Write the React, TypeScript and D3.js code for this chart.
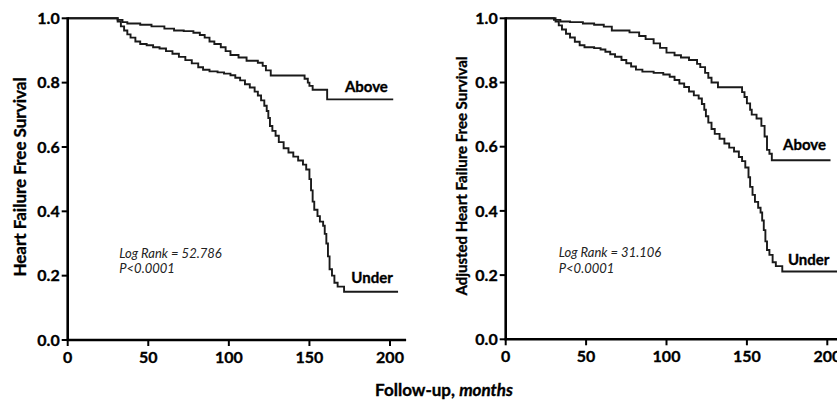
import React from "react";
import * as d3 from "d3";

const xTicks = [0, 50, 100, 150, 200];
const yTicks = [0, 0.2, 0.4, 0.6, 0.8, 1.0];

// Kaplan–Meier steps: [month, survival]
const leftAbove: [number, number][] = [
  [0, 1.0], [31, 0.995], [34, 0.988], [37, 0.984], [45, 0.98], [52, 0.975], [60, 0.968], [66, 0.962],
  [72, 0.96], [78, 0.955], [82, 0.948], [85, 0.94], [88, 0.928], [91, 0.92], [95, 0.91], [98, 0.898],
  [101, 0.886], [106, 0.878], [111, 0.868], [118, 0.862], [121, 0.852], [123, 0.838], [126, 0.822],
  [147, 0.812], [149, 0.8], [150, 0.79], [152, 0.778], [161, 0.748], [202, 0.748],
];
const leftUnder: [number, number][] = [
  [0, 1], [31, 0.99], [33, 0.975], [35, 0.962], [37, 0.95], [39, 0.94], [42, 0.928], [45, 0.92],
  [49, 0.916], [53, 0.91], [57, 0.906], [61, 0.898], [65, 0.89], [69, 0.88], [73, 0.87], [77, 0.86],
  [81, 0.848], [84, 0.84], [88, 0.835], [93, 0.832], [97, 0.828], [101, 0.823], [104, 0.815], [107, 0.807],
  [110, 0.795], [113, 0.785], [116, 0.772], [118, 0.76], [120, 0.745], [122, 0.728], [123.5, 0.712],
  [124.5, 0.69], [125.5, 0.665], [127, 0.65], [129, 0.635], [131, 0.615], [134, 0.596], [137, 0.583],
  [140, 0.57], [143, 0.558], [146, 0.545], [148, 0.53], [150, 0.5], [151, 0.465], [152, 0.43], [153, 0.405],
  [155, 0.385], [156.5, 0.368], [158.5, 0.355], [159.5, 0.33], [160.5, 0.3], [161.5, 0.26], [162.5, 0.22],
  [164, 0.2], [165.5, 0.178], [167.5, 0.166], [171.5, 0.15], [205, 0.15],
];
const rightAbove: [number, number][] = [
  [0, 1], [30, 0.995], [34, 0.99], [40, 0.988], [48, 0.984], [55, 0.98], [61, 0.974], [66, 0.962],
  [77, 0.956], [83, 0.945], [87, 0.935], [92, 0.922], [96, 0.908], [100, 0.893], [105, 0.885], [109, 0.878],
  [114, 0.87], [119, 0.858], [121, 0.848], [124, 0.83], [126, 0.815], [128, 0.8], [132, 0.785], [147, 0.77],
  [148.5, 0.755], [150, 0.735], [152, 0.715], [153, 0.7], [156, 0.688], [159, 0.665], [161, 0.632],
  [162.5, 0.59], [164, 0.578], [165.5, 0.558], [202, 0.558],
];
const rightUnder: [number, number][] = [
  [0, 1], [31, 0.99], [33, 0.978], [35, 0.965], [37.5, 0.952], [40, 0.94], [43, 0.927], [46, 0.916],
  [49, 0.91], [55, 0.907], [59, 0.903], [62, 0.896], [65, 0.888], [68, 0.88], [72, 0.87], [75, 0.86],
  [78, 0.85], [81, 0.84], [85, 0.834], [92, 0.83], [98, 0.825], [102, 0.818], [105, 0.808], [108, 0.797],
  [111, 0.786], [114, 0.772], [117, 0.76], [120, 0.75], [122, 0.733], [123.5, 0.715], [124.5, 0.695],
  [126, 0.675], [128, 0.655], [130, 0.64], [133, 0.625], [136, 0.61], [139, 0.597], [142, 0.585],
  [145, 0.568], [147, 0.555], [149, 0.535], [151, 0.505], [152, 0.475], [153.5, 0.45], [155, 0.428],
  [157, 0.41], [158.5, 0.395], [159.5, 0.37], [160.5, 0.34], [161.5, 0.305], [162.5, 0.278], [164, 0.263],
  [166, 0.24], [168, 0.228], [172, 0.211], [210, 0.211],
];

const panels = [
  {
    title: "Heart Failure Free Survival",
    stat: "Log Rank = 52.786",
    p: "P<0.0001",
    above: leftAbove,
    under: leftUnder,
    xRange: [67.7, 390] as [number, number],
    yRange: [340, 18.3] as [number, number],
    axisEnd: 210,
    titleX: 20,
    titleY: 177,
    titleSize: 17,
    aboveLbl: [172, 0.77],
    underLbl: [176, 0.176],
    statAt: [32, 0.255],
  },
  {
    title: "Adjusted Heart Failure Free Survival",
    stat: "Log Rank = 31.106",
    p: "P<0.0001",
    above: rightAbove,
    under: rightUnder,
    xRange: [505.7, 827.3] as [number, number],
    yRange: [339.3, 18.3] as [number, number],
    axisEnd: 215,
    titleX: 462,
    titleY: 176,
    titleSize: 15,
    aboveLbl: [172.5, 0.59],
    underLbl: [175.5, 0.232],
    statAt: [33, 0.255],
  },
];

const FONT = "Lato, 'Open Sans', sans-serif";

function Panel({ cfg }: { cfg: (typeof panels)[number] }) {
  const x = d3.scaleLinear().domain([0, 200]).range(cfg.xRange);
  const y = d3.scaleLinear().domain([0, 1]).range(cfg.yRange);
  const line = d3
    .line<[number, number]>()
    .x((d) => x(d[0]))
    .y((d) => y(d[1]))
    .curve(d3.curveStepAfter);
  const x0 = x(0);
  const y0 = y(0);
  const bold = { fontWeight: 700, stroke: "#000", strokeWidth: 0.35 } as const;
  return (
    <g fontFamily={FONT}>
      <path d={line(cfg.above) || ""} fill="none" stroke="#1a1a1a" strokeWidth={1.9} />
      <path d={line(cfg.under) || ""} fill="none" stroke="#1a1a1a" strokeWidth={1.9} />
      <line x1={x0} x2={x0} y1={y(1) - 1} y2={y0 + 1} stroke="#000" strokeWidth={2.6} />
      <line x1={x0 - 1} x2={x(cfg.axisEnd)} y1={y0} y2={y0} stroke="#000" strokeWidth={2.6} />
      {yTicks.map((t) => (
        <g key={"y" + t}>
          <line x1={x0 - 6} x2={x0} y1={y(t)} y2={y(t)} stroke="#000" strokeWidth={2} />
          <text x={x0 - 8} y={y(t)} dy="0.36em" textAnchor="end" fontSize={16} {...bold}>
            {t.toFixed(1)}
          </text>
        </g>
      ))}
      {xTicks.map((t) => (
        <g key={"x" + t}>
          <line x1={x(t)} x2={x(t)} y1={y0} y2={y0 + 6} stroke="#000" strokeWidth={2} />
          <text x={x(t)} y={y0 + 23} textAnchor="middle" fontSize={16} {...bold}>
            {t}
          </text>
        </g>
      ))}
      <text
        transform={`translate(${cfg.titleX},${cfg.titleY}) rotate(-90)`}
        textAnchor="middle"
        dy="0.35em"
        fontSize={cfg.titleSize}
        {...bold}
      >
        {cfg.title}
      </text>
      <text x={x(cfg.aboveLbl[0])} y={y(cfg.aboveLbl[1])} fontSize={15} {...bold}>
        Above
      </text>
      <text x={x(cfg.underLbl[0])} y={y(cfg.underLbl[1])} fontSize={15} {...bold}>
        Under
      </text>
      <text x={x(cfg.statAt[0])} y={y(cfg.statAt[1])} fontSize={13} fontStyle="italic" fill="#222">
        {cfg.stat}
      </text>
      <text x={x(cfg.statAt[0])} y={y(cfg.statAt[1]) + 15.5} fontSize={13} fontStyle="italic" fill="#222">
        {cfg.p}
      </text>
    </g>
  );
}

export default function App() {
  return (
    <svg
      width={837}
      height={404}
      style={{ position: "absolute", left: 0, top: 0, background: "#fff" }}
    >
      <rect width={837} height={404} fill="#fff" />
      {panels.map((p, i) => (
        <Panel key={i} cfg={p} />
      ))}
      <text
        x={444}
        y={396}
        textAnchor="middle"
        fontFamily={FONT}
        fontSize={17}
        fontWeight={700}
        stroke="#000"
        strokeWidth={0.35}
      >
        Follow-up, <tspan fontStyle="italic">months</tspan>
      </text>
    </svg>
  );
}
